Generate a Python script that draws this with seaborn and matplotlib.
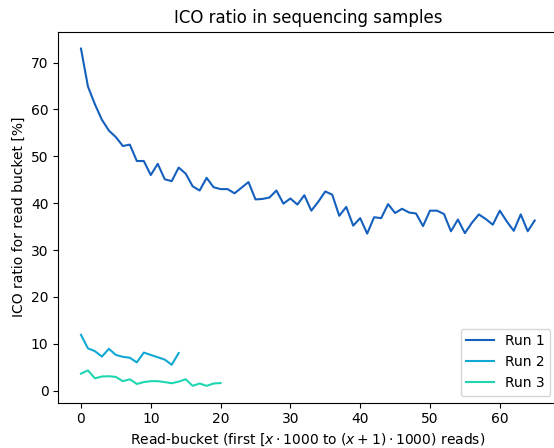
import matplotlib
matplotlib.use("Agg")
import matplotlib.pyplot as plt
import numpy as np
import pandas as pd
import seaborn as sns

# ICO ratio per read bucket (percent), one list per sequencing run
run1 = [73.0, 64.9, 61.1, 57.8, 55.5, 54.1, 52.2, 52.5, 49.0, 49.0,
        46.0, 48.4, 45.1, 44.7, 47.6, 46.3, 43.6, 42.7, 45.4, 43.4,
        43.0, 43.0, 42.1, 43.3, 44.5, 40.8, 40.9, 41.2, 42.7, 39.9,
        41.0, 39.7, 41.7, 38.4, 40.3, 42.5, 41.8, 37.3, 39.2, 35.2,
        36.8, 33.5, 37.0, 36.8, 39.8, 37.9, 38.8, 38.0, 37.8, 35.1,
        38.4, 38.4, 37.7, 34.0, 36.5, 33.6, 35.8, 37.6, 36.6, 35.4,
        38.4, 36.1, 34.1, 37.6, 34.0, 36.3]
run2 = [11.9, 9.0, 8.4, 7.25, 8.9, 7.6, 7.2, 7.0, 6.0, 8.1,
        7.6, 7.1, 6.6, 5.5, 8.0]
run3 = [3.6, 4.3, 2.6, 3.0, 3.05, 2.9, 2.0, 2.4, 1.4, 1.8,
        2.0, 2.0, 1.8, 1.56, 1.9, 2.4, 1.0, 1.5, 1.0, 1.5, 1.6]

run_names = ["Run 1", "Run 2", "Run 3"]
run_values = [run1, run2, run3]
run_colors = ["#1560bd", "#12a8d4", "#1fd6b2"]

frames = []
for name, vals in zip(run_names, run_values):
    frames.append(pd.DataFrame({"bucket": np.arange(len(vals)),
                                "ratio": vals,
                                "run": name}))
df = pd.concat(frames, ignore_index=True)

plt.rcParams["font.family"] = ["DejaVu Sans"]

fig = plt.figure(figsize=(5.54, 4.48), dpi=100)
ax = fig.add_axes([0.1052, 0.1011, 0.9009, 0.8281])

sns.lineplot(data=df, x="bucket", y="ratio", hue="run",
             palette=dict(zip(run_names, run_colors)),
             linewidth=1.5, ax=ax)

ax.set_title("ICO ratio in sequencing samples", fontsize=12)
ax.set_xlabel(r"Read-bucket (first [$x \cdot 1000$ to $(x+1) \cdot 1000$) reads)")
ax.set_ylabel("ICO ratio for read bucket [%]")
ax.set_xticks([0, 10, 20, 30, 40, 50, 60])
ax.set_yticks([0, 10, 20, 30, 40, 50, 60, 70])
ax.legend(loc="lower right", title=None)

fig.savefig("out.png", dpi=100)
